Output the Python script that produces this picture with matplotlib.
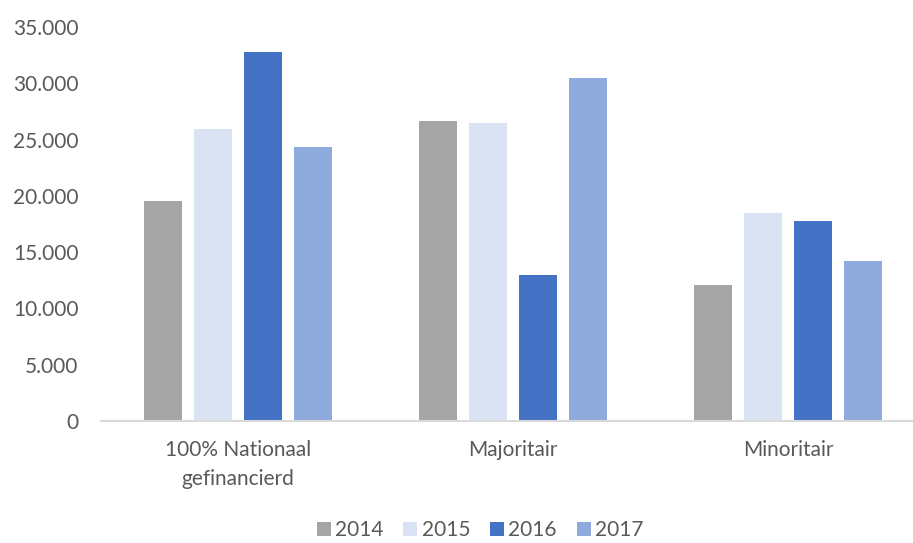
import matplotlib
matplotlib.use("Agg")
import matplotlib.pyplot as plt
import numpy as np
from matplotlib.ticker import FuncFormatter
from matplotlib.patches import Patch

categories = ["100% Nationaal\ngefinancierd", "Majoritair", "Minoritair"]
years = ["2014", "2015", "2016", "2017"]
values_2014 = [19550, 26670, 12050]
values_2015 = [25950, 26460, 18470]
values_2016 = [32800, 12940, 17740]
values_2017 = [24330, 30460, 14180]
series = [values_2014, values_2015, values_2016, values_2017]
colors = ["#a5a5a5", "#dae3f3", "#4472c4", "#8faadc"]

plt.rcParams['font.family'] = ['Lato', 'DejaVu Sans']

W, H = 913, 543
fig = plt.figure(figsize=(W / 100, H / 100), dpi=100)
left, right = 100.8, 913
bottom, top = 421, 27
ax = fig.add_axes([left / W, (H - bottom) / H, (right - left) / W, (bottom - top) / H])

x = np.arange(len(categories))
bw = 38 / 275
pitch = 50 / 275
for i, (vals, c) in enumerate(zip(series, colors)):
    ax.bar(x + (i - 1.5) * pitch, vals, width=bw, color=c, label=years[i], zorder=2)

ax.set_xlim(-0.5, -0.5 + (right - left) / 275)
ax.set_ylim(0, 35000)
ax.set_yticks(np.arange(0, 35001, 5000))
ax.yaxis.set_major_formatter(FuncFormatter(lambda v, p: f"{int(v):,}".replace(",", ".")))
ax.set_xticks(x)
ax.set_xticklabels(categories, linespacing=1.55)

for s in ["top", "right", "left"]:
    ax.spines[s].set_visible(False)
ax.spines["bottom"].set_color("#d9d9d9")
ax.spines["bottom"].set_linewidth(1.5)
ax.tick_params(axis="both", length=0, labelsize=15, labelcolor="#595959")
ax.tick_params(axis="y", pad=16)
ax.tick_params(axis="x", pad=14)

handles = [Patch(facecolor=c, label=y) for c, y in zip(colors, years)]
fig.legend(handles=handles, loc="center", bbox_to_anchor=(480 / W, 1 - 530 / H), ncol=4,
           frameon=False, fontsize=15, labelcolor="#595959", handlelength=0.67,
           handleheight=0.67, handletextpad=0.2, columnspacing=0.96,
           borderpad=0.1, borderaxespad=0.1)

fig.savefig("out.png", dpi=100)
